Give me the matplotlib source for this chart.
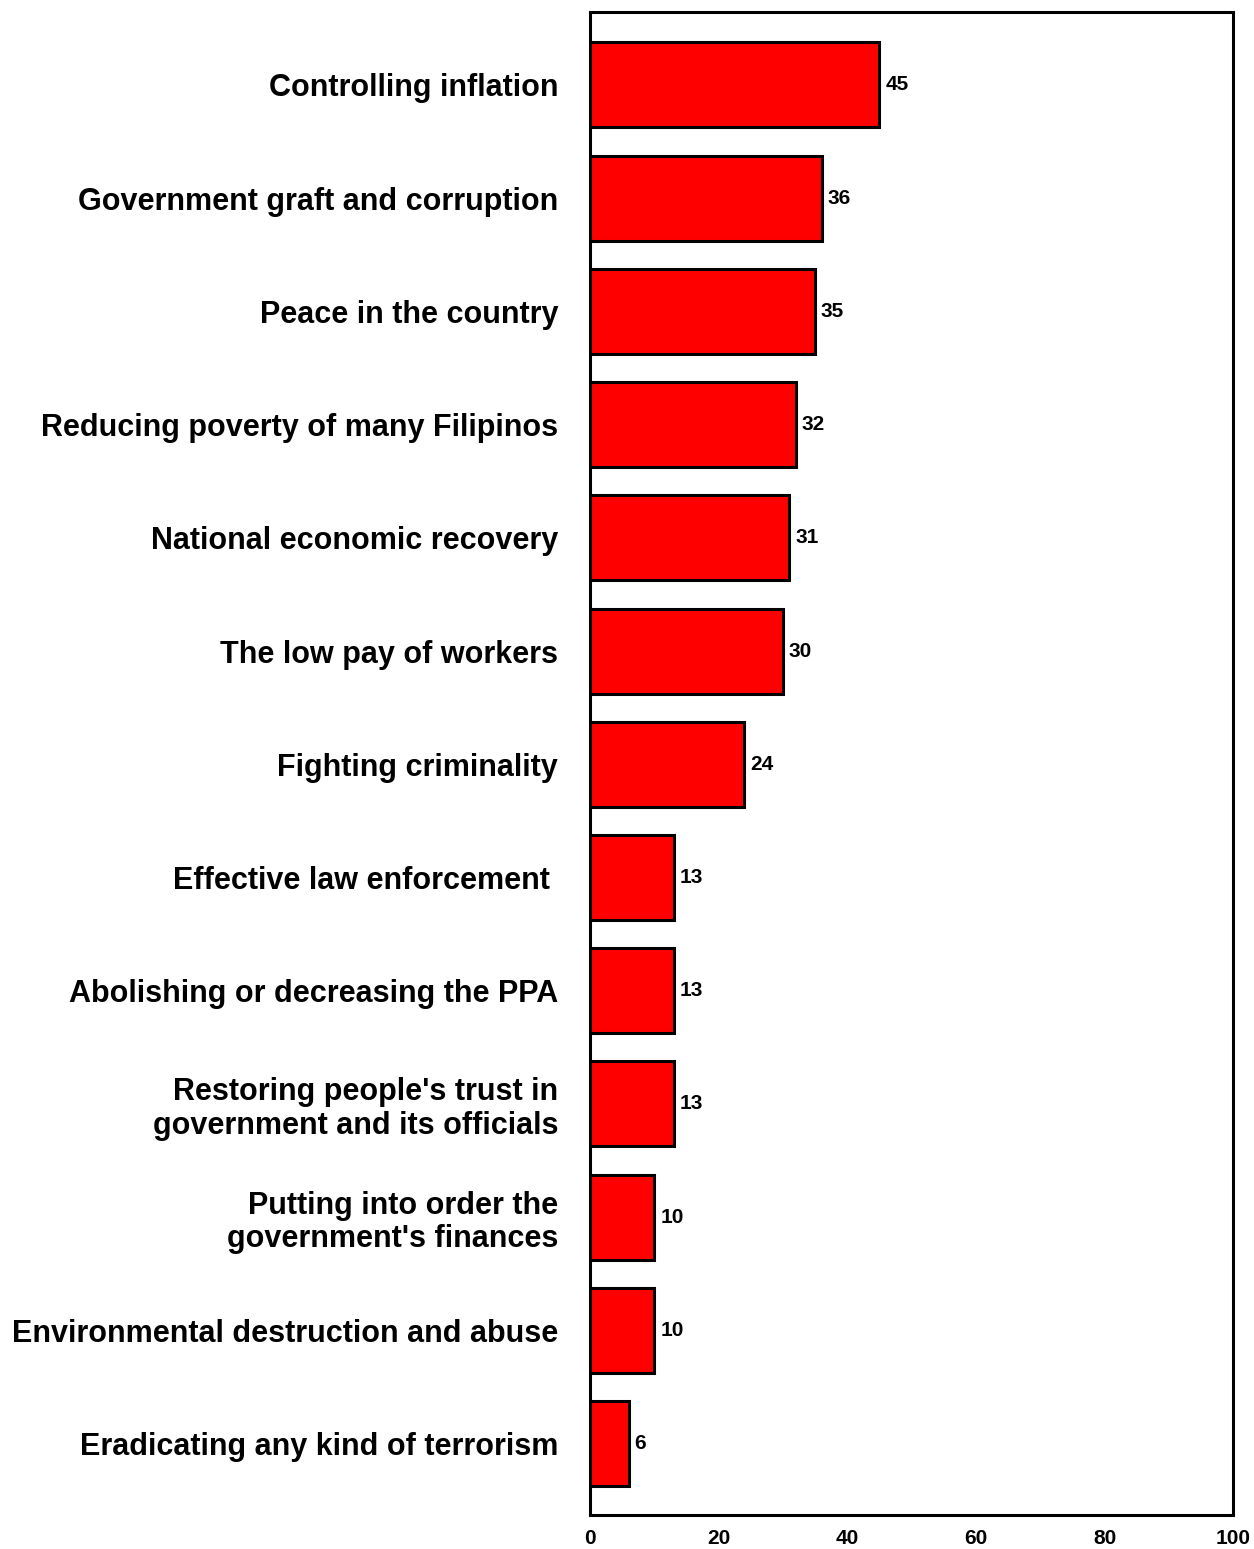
import matplotlib
matplotlib.use("Agg")
import matplotlib.pyplot as plt

plt.rcParams['font.family'] = ['Liberation Sans', 'DejaVu Sans']
plt.rcParams['font.weight'] = 'bold'

# Problems the public most wants addressed (%)
problemas = [
    "Controlling inflation",
    "Government graft and corruption",
    "Peace in the country",
    "Reducing poverty of many Filipinos",
    "National economic recovery",
    "The low pay of workers",
    "Fighting criminality",
    "Effective law enforcement ",
    "Abolishing or decreasing the PPA",
    "Restoring people's trust in\ngovernment and its officials",
    "Putting into order the\ngovernment's finances",
    "Environmental destruction and abuse",
    "Eradicating any kind of terrorism",
]
porcentajes = [45, 36, 35, 32, 31, 30, 24, 13, 13, 13, 10, 10, 6]
ticks_x = [0, 20, 40, 60, 80, 100]

fig = plt.figure(figsize=(12.54, 15.49), dpi=100)
ax = fig.add_axes([0.4705, 0.022, 0.513, 0.9703])

pos_y = list(range(len(problemas)))
ax.barh(pos_y, porcentajes, height=0.75, color='#ff0000',
        edgecolor='black', linewidth=2.2)

for y, v in zip(pos_y, porcentajes):
    ax.text(v + 0.9, y, str(v), va='center', ha='left',
            fontsize=15, fontweight='bold')

ax.set_xlim(0, 100)
ax.set_ylim(len(problemas) - 0.37, -0.645)
ax.set_xticks(ticks_x)
ax.set_xticklabels([str(t) for t in ticks_x], fontsize=15, fontweight='bold')
ax.set_yticks(pos_y)
ax.set_yticklabels(problemas, fontsize=22, fontweight='bold', ha='right',
                   linespacing=1.15)
ax.tick_params(axis='y', length=0, pad=23)
ax.tick_params(axis='x', length=0, pad=10)
for s in ax.spines.values():
    s.set_linewidth(2.2)

fig.savefig("out.png", dpi=100)
